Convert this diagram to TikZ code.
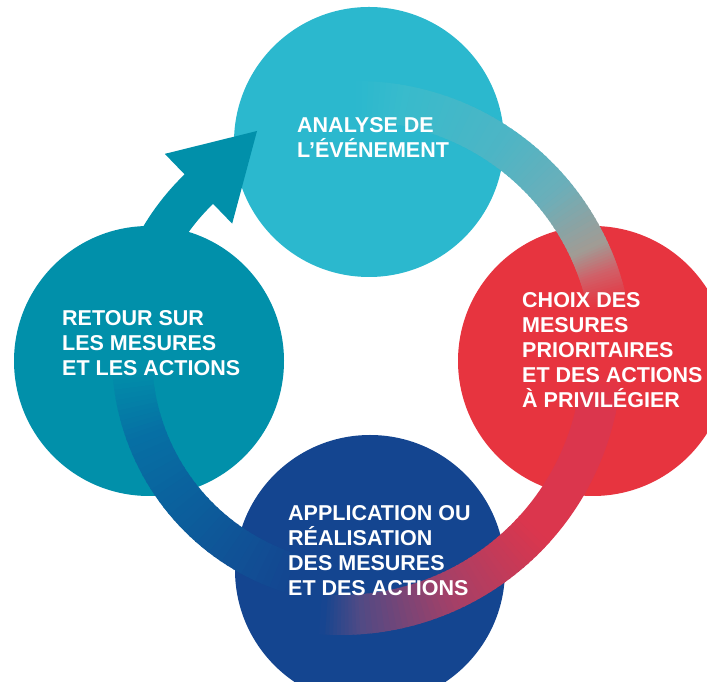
\documentclass[tikz,border=0pt]{standalone}
\usepackage{fontspec}
\setmainfont{Liberation Sans}
\definecolor{analysecol}{RGB}{43,184,206}
\definecolor{choixcol}{RGB}{231,52,63}
\definecolor{applicol}{RGB}{20,69,144}
\definecolor{retourcol}{RGB}{1,144,170}
\definecolor{bandcyan}{RGB}{56,187,204}
\definecolor{bandteal}{RGB}{77,181,197}
\definecolor{bandgrey}{RGB}{106,175,186}
\definecolor{bandstone}{RGB}{162,155,148}
\definecolor{bandpink}{RGB}{208,96,104}
\definecolor{bandred}{RGB}{219,54,77}
\definecolor{bandplum}{RGB}{163,64,104}
\definecolor{bandviolet}{RGB}{79,74,133}
\definecolor{bandsea}{RGB}{6,112,164}
\tikzset{phase/.style={circle, inner sep=0pt, minimum size=270pt}, phasetext/.style={text=white, font=\bfseries\fontsize{21.5}{25}\selectfont, align=left, anchor=north west, inner sep=0pt}, ringband/.style={line width=40pt}}
\newcommand{\gradarc}[7]{%
  \foreach \k in {1,...,#7}{
    \pgfmathsetmacro{\angA}{#3+(#4-#3)*(\k-1)/#7}
    \pgfmathsetmacro{\angB}{#3+(#4-#3)*\k/#7+0.5*sign(#4-#3)}
    \pgfmathtruncatemacro{\mixp}{100*(\k-0.5)/#7}
    \draw[ringband, #6!\mixp!#5] (#1) ++(\angA:#2) arc[start angle=\angA, end angle=\angB, radius=#2];
  }}

\begin{document}
\begin{tikzpicture}[x=1pt,y=1pt]
  \clip (0,0) rectangle (707,682);
  \node[phase, fill=analysecol] (analyse) at (369,540) {};
  \node[phase, fill=choixcol] (choix) at (593,321) {};
  \node[phase, fill=applicol] (application) at (370,112) {};
  \node[phase, fill=retourcol] (retour) at (149,321) {};
  \coordinate (ringA) at (356,324);
  \coordinate (ringB) at (341,328);
  \coordinate (ringC) at (360,326);
  \gradarc{ringA}{257}{90}{80}{analysecol}{bandcyan}{8}
  \gradarc{ringA}{257}{80}{56}{bandcyan}{bandteal}{16}
  \gradarc{ringA}{257}{56}{40}{bandteal}{bandgrey}{14}
  \gradarc{ringA}{257}{40}{25}{bandgrey}{bandstone}{14}
  \gradarc{ringA}{257}{25}{19}{bandstone}{bandpink}{10}
  \gradarc{ringA}{257}{19}{12}{bandpink}{choixcol}{12}
  \gradarc{ringB}{261}{-4}{-12}{choixcol}{bandred}{6}
  \gradarc{ringB}{261}{-12}{-42}{bandred}{bandred}{1}
  \gradarc{ringB}{261}{-42}{-66}{bandred}{bandplum}{20}
  \gradarc{ringB}{261}{-66}{-86}{bandplum}{bandviolet}{16}
  \gradarc{ringB}{261}{-86}{-94}{bandviolet}{applicol}{10}
  \gradarc{ringC}{228}{-106}{-160}{applicol}{bandsea}{30}
  \gradarc{ringC}{228}{-160}{-177}{bandsea}{retourcol}{14}
  \draw[ringband, line width=41pt, retourcol] (ringC) ++(155:232) arc[start angle=155, end angle=133, radius=232];
  \path (ringC) ++(134:281) coordinate (headout) (ringC) ++(134:184) coordinate (headin);
  \coordinate (headtip) at (257,551);
  \fill[retourcol] (headout) -- (headtip) -- (headin) -- cycle;
  \node[phasetext] (analysetxt) at (297,565) {ANALYSE DE\\L’ÉVÉNEMENT};
  \node[phasetext] (choixtxt) at (522,390) {CHOIX DES\\MESURES\\PRIORITAIRES\\ET DES ACTIONS\\À PRIVILÉGIER};
  \node[phasetext] (retourtxt) at (62,372) {RETOUR SUR\\LES MESURES\\ET LES ACTIONS};
  \node[phasetext] (applitxt) at (288,177) {APPLICATION OU\\RÉALISATION\\DES MESURES\\ET DES ACTIONS};
\end{tikzpicture}
\end{document}
